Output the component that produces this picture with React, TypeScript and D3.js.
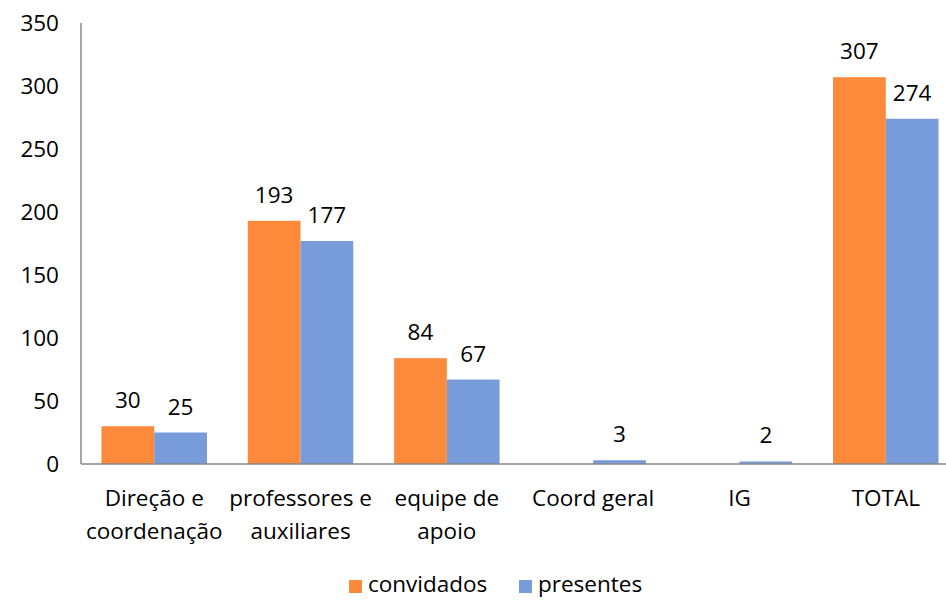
import React from "react";
import * as d3 from "d3";

const categories = [["Direção e", "coordenação"], ["professores e", "auxiliares"], ["equipe de", "apoio"], ["Coord geral"], ["IG"], ["TOTAL"]];
const convidados = [30, 193, 84, 0, 0, 307];
const presentes = [25, 177, 67, 3, 2, 274];
const yTicks = [0, 50, 100, 150, 200, 250, 300, 350];
const seriesNames = ["convidados", "presentes"];
const colors = ["#FC8A3A", "#789CD9"];

export default function App() {
  const W = 946, H = 600;
  const left = 81, right = 959, top = 23, bottom = 464;
  const font = "'Open Sans', Lato, sans-serif";
  const fs = 22.5;
  const x = d3.scaleBand<number>().domain(d3.range(categories.length)).range([left, right]).paddingInner(0.279).paddingOuter(0.14);
  const y = d3.scaleLinear().domain([0, 350]).range([bottom, top]);
  const bw = x.bandwidth() / 2;
  const series = [convidados, presentes];
  return (
    <svg width={W} height={H} style={{ position: "absolute", left: 0, top: 0, fontFamily: font }}>
      <rect width={W} height={H} fill="#fff" />
      {series.map((vals, s) =>
        vals.map((v, i) => {
          if (v === 0) return null;
          const bx = (x(i) as number) + s * bw;
          return (
            <g key={`${s}-${i}`}>
              <rect x={bx} y={y(v)} width={bw} height={bottom - y(v)} fill={colors[s]} />
              <text x={bx + bw / 2} y={y(v) - 18} textAnchor="middle" fontSize={fs} fill="#000">{v}</text>
            </g>
          );
        })
      )}
      <line x1={left} x2={left} y1={top} y2={bottom} stroke="#888" strokeWidth={1.5} />
      <line x1={left} x2={W} y1={bottom} y2={bottom} stroke="#888" strokeWidth={1.5} />
      {yTicks.map((t) => (
        <text key={t} x={59} y={y(t) + 8} textAnchor="end" fontSize={fs} fill="#000">{t}</text>
      ))}
      {categories.map((lines, i) => (
        <text key={i} textAnchor="middle" fontSize={fs} fill="#000">
          {lines.map((l, j) => (
            <tspan key={j} x={(x(i) as number) + x.bandwidth() / 2} y={506 + j * 33}>{l}</tspan>
          ))}
        </text>
      ))}
      {seriesNames.map((n, s) => {
        const lx = s === 0 ? 349 : 519;
        return (
          <g key={n}>
            <rect x={lx} y={580} width={13} height={13} fill={colors[s]} />
            <text x={lx + 19} y={592} fontSize={fs} fill="#000">{n}</text>
          </g>
        );
      })}
    </svg>
  );
}
